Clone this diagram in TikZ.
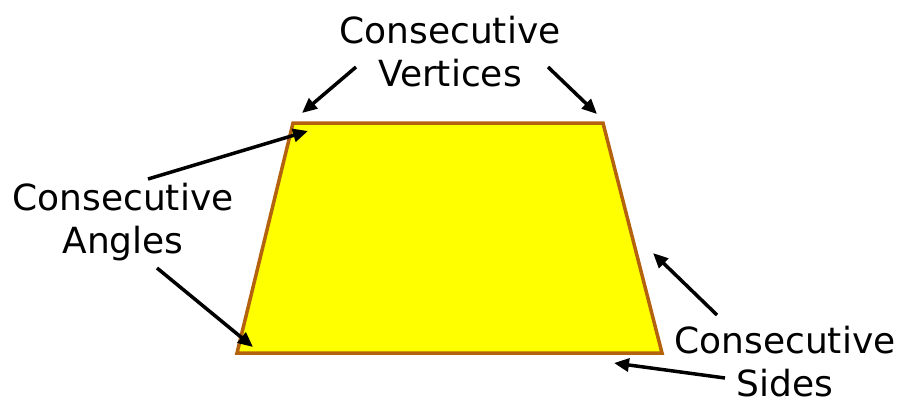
\documentclass[tikz,border=0pt]{standalone}
\usepackage{fontspec}
\setmainfont{DejaVu Sans}
\usetikzlibrary{arrows.meta}
\definecolor{trapfill}{HTML}{FFFF00}
\definecolor{trapedge}{HTML}{B5620F}

\begin{document}
\begin{tikzpicture}[x=1pt,y=-1pt,
      lbl/.style={align=center,font=\fontsize{36}{43}\selectfont,inner sep=0pt},
      arr/.style={-{Triangle[length=15pt,width=13pt]},black,line width=3.5pt}]
    \useasboundingbox (0,0) rectangle (904,405);
    % trapezoid
    \coordinate (tl) at (293,123);
    \coordinate (tr) at (603,123);
    \coordinate (br) at (662,353);
    \coordinate (bl) at (237,353);
    \draw[fill=trapfill,draw=trapedge,line width=3.5pt,line join=miter](tl)--(tr)--(br)--(bl)--cycle;
    % labels
    \node[lbl,anchor=base](vert) at (450,86){Consecutive\\Vertices};
    \node[lbl,anchor=base](ang) at (123,253){Consecutive\\Angles};
    \node[lbl,anchor=base](sid) at (785,396){Consecutive\\Sides};
    % arrow ends
    \coordinate (v1) at (356,67);
    \coordinate (v1t) at (302,113);
    \coordinate (v2) at (548,67);
    \coordinate (v2t) at (597,114);
    \coordinate (a1) at (148,179);
    \coordinate (a1t) at (308,131);
    \coordinate (a2) at (157,268);
    \coordinate (a2t) at (253,347);
    \coordinate (s1) at (717,315);
    \coordinate (s1t) at (653,253);
    \coordinate (s2) at (725,378);
    \coordinate (s2t) at (614,363);
    \draw[arr](v1)--(v1t);
    \draw[arr](v2)--(v2t);
    \draw[arr](a1)--(a1t);
    \draw[arr](a2)--(a2t);
    \draw[arr](s1)--(s1t);
    \draw[arr](s2)--(s2t);
\end{tikzpicture}
\end{document}
